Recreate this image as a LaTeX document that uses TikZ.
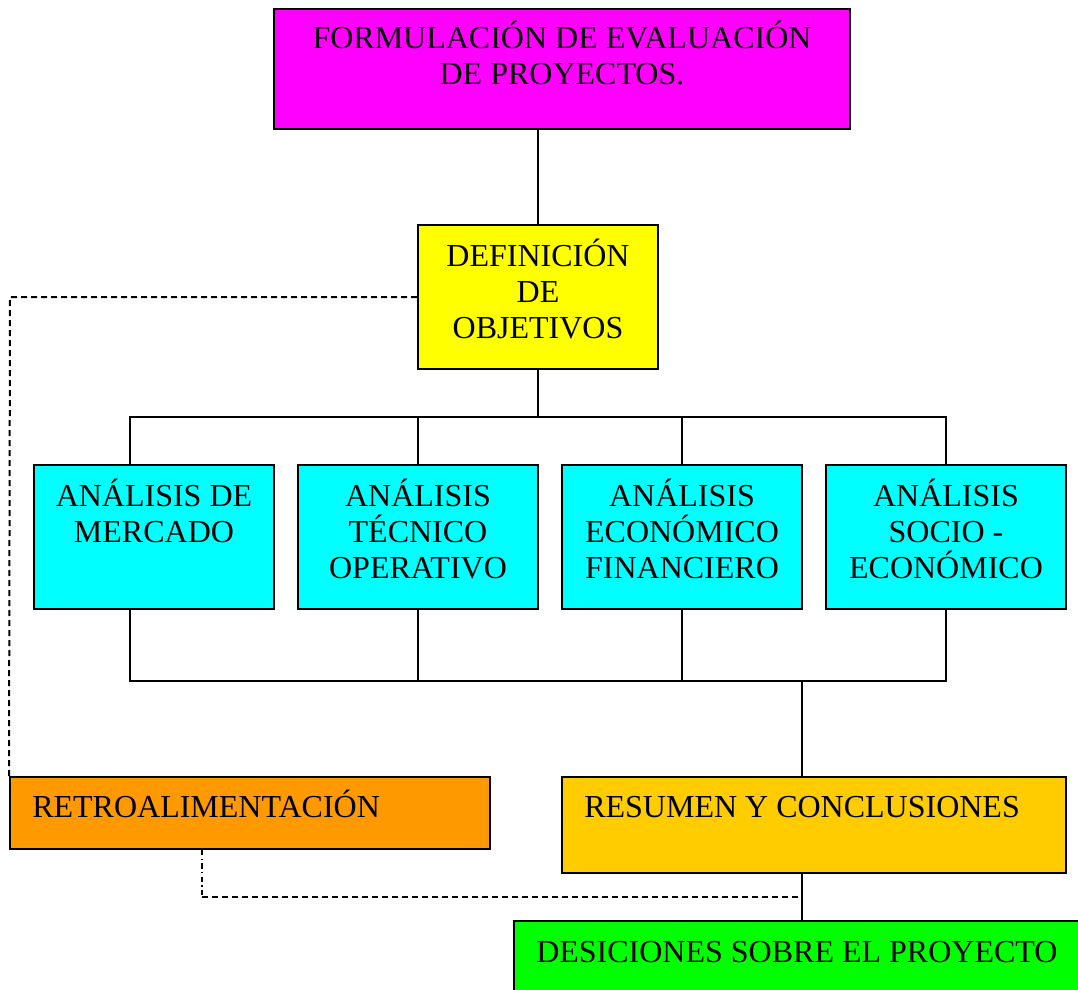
\documentclass[tikz,border=0pt]{standalone}
\usepackage{fontspec}
\setmainfont{Liberation Serif}
\usetikzlibrary{fit}
\definecolor{cMag}{HTML}{FF00FF}
\definecolor{cYel}{HTML}{FFFF00}
\definecolor{cCya}{HTML}{00FFFF}
\definecolor{cOra}{HTML}{FF9900}
\definecolor{cGol}{HTML}{FFCC00}
\definecolor{cGrn}{HTML}{00FF00}
\tikzset{
  box/.style={draw=black, line width=1.5pt, inner sep=0pt, fill=#1},
  txt/.style={inner sep=0pt, align=center, font=\fontsize{24pt}{27pt}\selectfont},
  ltxt/.style={inner sep=0pt, font=\fontsize{24pt}{27pt}\selectfont},
  conn/.style={draw=black, line width=1.5pt},
  dconn/.style={draw=black, line width=1.5pt, dash pattern=on 4.5pt off 3pt},
  ddconn/.style={draw=black, line width=1.5pt, dash pattern=on 4pt off 2.5pt on 1pt off 2.5pt},
}
\begin{document}
\begin{tikzpicture}[x=0.75pt,y=-0.75pt]
\clip (0,0) rectangle (1078,989);
\fill[white] (0,0) rectangle (1078,989);

% boxes
\node[box=cMag, fit={(274,9)(850,129)}] (form) {};
\node[box=cYel, fit={(418,225)(658,369)}] (obj) {};
\node[box=cCya, fit={(34,465)(274,609)}] (merc) {};
\node[box=cCya, fit={(298,465)(538,609)}] (tec) {};
\node[box=cCya, fit={(562,465)(802,609)}] (eco) {};
\node[box=cCya, fit={(826,465)(1066,609)}] (soc) {};
\node[box=cOra, fit={(10,777)(490,849)}] (retro) {};
\node[box=cGol, fit={(562,777)(1066,873)}] (res) {};
\node[box=cGrn, fit={(514,921)(1100,1010)}] (dec) {};

% texts
\node[txt] at (562,53) {FORMULACIÓN DE EVALUACIÓN\\DE PROYECTOS.};
\node[txt] at (538,289) {DEFINICIÓN\\DE\\OBJETIVOS};
\node[txt] at (154,511) {ANÁLISIS DE\\MERCADO};
\node[txt] at (418,529) {ANÁLISIS\\TÉCNICO\\OPERATIVO};
\node[txt] at (682,529) {ANÁLISIS\\ECONÓMICO\\FINANCIERO};
\node[txt] at (946,529) {ANÁLISIS\\SOCIO -\\ECONÓMICO};
\node[ltxt, anchor=base west] at (32,817) {RETROALIMENTACIÓN};
\node[ltxt, anchor=base west] at (584,817) {RESUMEN Y CONCLUSIONES};
\node[ltxt, anchor=base west] at (536,962) {DESICIONES SOBRE EL PROYECTO};

% bus junctions
\coordinate (topbus) at (538,417);
\coordinate (botbus) at (802,681);

% connectors
\draw[conn] (form.south -| obj.north) -- (obj.north);
\draw[conn] (obj.south) -- (topbus);
\draw[conn] (merc.north -| 130,0) |- (topbus);
\draw[conn] (topbus) -| (soc.north);
\draw[conn] (topbus -| tec.north) -- (tec.north);
\draw[conn] (topbus -| eco.north) -- (eco.north);
\draw[conn] (merc.south -| 130,0) |- (botbus);
\draw[conn] (soc.south) |- (botbus);
\draw[conn] (tec.south) -- (botbus -| tec.south);
\draw[conn] (eco.south) -- (botbus -| eco.south);
\draw[conn] (botbus) -- (res.north -| botbus);
\draw[conn] (res.south -| botbus) -- (dec.north -| botbus);

% feedback loop
\coordinate (fbA) at (10,297);
\coordinate (fbB) at (202,897);
\draw[dconn] (obj.west |- fbA) -- (fbA) -- (retro.north west);
\draw[ddconn] (retro.south -| fbB) -- (fbB);
\draw[dconn] (fbB) -- (fbB -| botbus);
\end{tikzpicture}
\end{document}
